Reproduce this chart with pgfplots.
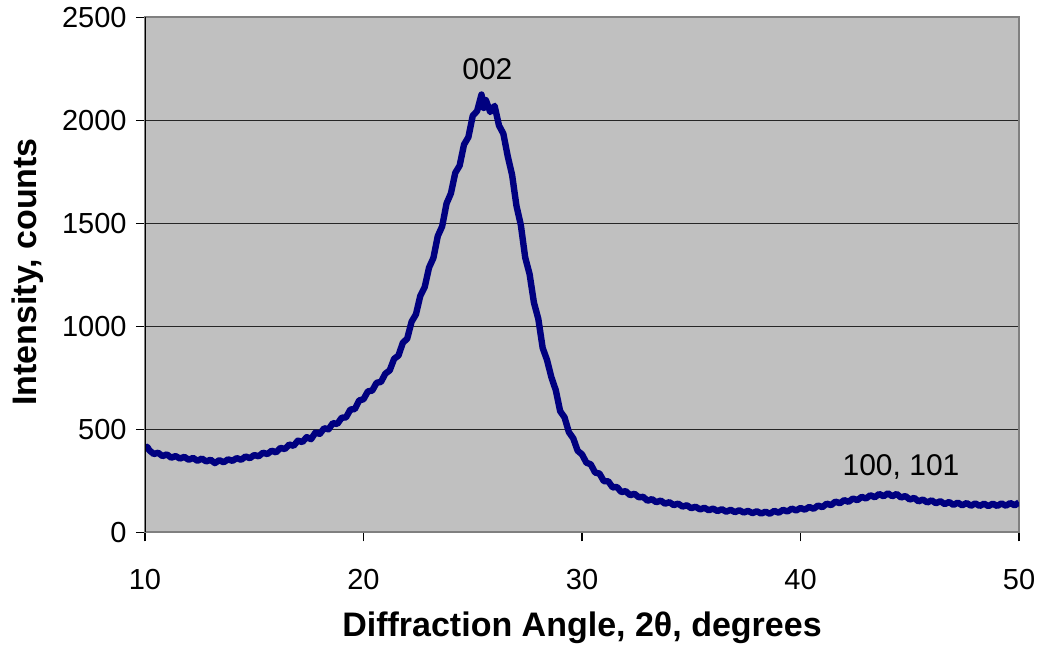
\documentclass[border=0pt]{standalone}
\usepackage{fontspec}
\setmainfont{Liberation Sans}
\usepackage{pgfplots}
\pgfplotsset{compat=1.18}
\definecolor{bg}{HTML}{C0C0C0}
\definecolor{navy}{HTML}{000080}
\definecolor{frame}{HTML}{808080}
\begin{document}
\begin{tikzpicture}
\begin{axis}[
  scale only axis,
  width=437pt, height=257.5pt,
  xmin=10, xmax=50, ymin=0, ymax=2500,
  xtick={10,20,30,40,50},
  ytick={0,500,1000,1500,2000,2500},
  xtick pos=left, ytick pos=left,
  tick align=outside,
  major tick length=4.5pt,
  tick style={black, line width=0.6pt},
  axis background/.style={fill=bg},
  axis line style={draw=frame, line width=1.2pt},
  ymajorgrids,
  grid style={black!85, line width=0.5pt},
  /pgf/number format/assume math mode=true,
  /pgf/number format/1000 sep={},
  ticklabel style={font=\fontsize{14.5}{16}\selectfont},
  xticklabel style={anchor=base, inner sep=0pt, yshift=-24pt},
  yticklabel style={anchor=east, inner sep=0pt, xshift=-4.5pt},
  xlabel={Diffraction Angle, 2θ, degrees},
  ylabel={Intensity, counts},
  every axis x label/.style={at={(rel axis cs:0.5,0)}, yshift=-52.3pt, anchor=base, inner sep=0pt, font=\fontsize{17}{19}\selectfont\bfseries},
  every axis y label/.style={at={(rel axis cs:0,0.5)}, xshift=-54pt, yshift=1.4pt, rotate=90, anchor=base, inner sep=0pt, font=\fontsize{17}{19}\selectfont\bfseries},
  clip=true,
]
\addplot[draw=navy, line width=3.2pt, line join=round, no markers] coordinates {
(10.0,400) (10.1,415) (10.2,398) (10.4,380) (10.6,386) (10.8,370) (11.0,378) (11.2,362) (11.4,370) (11.6,358) (11.8,366)
(12.0,352) (12.2,361) (12.4,347) (12.6,358) (12.8,344) (13.0,352) (13.2,336) (13.4,350) (13.6,340) (13.8,354)
(14.0,347) (14.2,360) (14.4,352) (14.6,368) (14.8,360) (15.0,375) (15.2,369) (15.4,386) (15.6,380) (15.8,396)
(16.0,388) (16.2,410) (16.4,404) (16.6,426) (16.8,420) (17.0,445) (17.2,438) (17.4,462) (17.6,452) (17.8,484)
(18.0,478) (18.2,505) (18.4,500) (18.6,530) (18.8,526) (19.0,556) (19.2,558) (19.4,596) (19.6,598) (19.8,640)
(20.0,646) (20.2,684) (20.4,688) (20.6,726) (20.8,730) (21.0,770) (21.2,786) (21.4,842) (21.6,858) (21.8,920)
(22.0,940) (22.2,1022) (22.4,1058) (22.6,1148) (22.8,1190) (23.0,1285) (23.2,1332) (23.4,1438) (23.6,1485) (23.8,1596)
(24.0,1645) (24.2,1745) (24.4,1780) (24.6,1882) (24.8,1918) (25.0,2022) (25.2,2045) (25.4,2125) (25.5,2060) (25.6,2098) (25.8,2040)
(26.0,2070) (26.2,1975) (26.4,1935) (26.6,1826) (26.8,1735) (27.0,1585) (27.2,1492) (27.4,1334) (27.6,1254) (27.8,1115)
(28.0,1036) (28.2,895) (28.4,836) (28.6,752) (28.8,690) (29.0,588) (29.2,558) (29.4,486) (29.6,456) (29.8,396)
(30.0,378) (30.2,338) (30.4,330) (30.6,290) (30.8,285) (31.0,248) (31.2,248) (31.4,218) (31.6,220) (31.8,195)
(32.0,200) (32.2,180) (32.4,187) (32.6,170) (32.8,172) (33.0,153) (33.2,161) (33.4,146) (33.6,154) (33.8,139)
(34.0,146) (34.2,132) (34.4,139) (34.6,125) (34.8,131) (35.0,117) (35.2,124) (35.4,111) (35.6,119) (35.8,107)
(36.0,115) (36.2,103) (36.4,112) (36.6,100) (36.8,109) (37.0,98) (37.2,107) (37.4,96) (37.6,104) (37.8,93)
(38.0,102) (38.2,91) (38.4,100) (38.6,90) (38.8,104) (39.0,95) (39.2,109) (39.4,101) (39.6,115) (39.8,106)
(40.0,118) (40.2,110) (40.4,123) (40.6,114) (40.8,130) (41.0,122) (41.2,139) (41.4,132) (41.6,149) (41.8,141)
(42.0,156) (42.2,148) (42.4,164) (42.6,156) (42.8,172) (43.0,164) (43.2,180) (43.4,170) (43.6,186) (43.8,175)
(44.0,189) (44.2,175) (44.4,186) (44.6,169) (44.8,176) (45.0,159) (45.2,167) (45.4,150) (45.6,159) (45.8,145)
(46.0,155) (46.2,141) (46.4,151) (46.6,137) (46.8,147) (47.0,133) (47.2,144) (47.4,131) (47.6,142) (47.8,129)
(48.0,140) (48.2,128) (48.4,139) (48.6,127) (48.8,139) (49.0,128) (49.2,140) (49.4,129) (49.6,142) (49.8,131)
(50.0,145)
};
\draw[black, line width=0.8pt] (rel axis cs:0,0) -- (rel axis cs:0,1);
\node[anchor=base, inner sep=0pt, font=\fontsize{15}{17}\selectfont] at (axis cs:25.67,2200) {002};
\node[anchor=base, inner sep=0pt, font=\fontsize{15}{17}\selectfont] at (axis cs:44.6,278) {100, 101};
\coordinate (bl) at (rel axis cs:0,0);
\coordinate (tr) at (rel axis cs:1,1);
\end{axis}
\pgfresetboundingbox
\path ([shift={(-72.5pt,-59.35pt)}]bl) rectangle ([shift={(9pt,8.65pt)}]tr);
\end{tikzpicture}
\end{document}
